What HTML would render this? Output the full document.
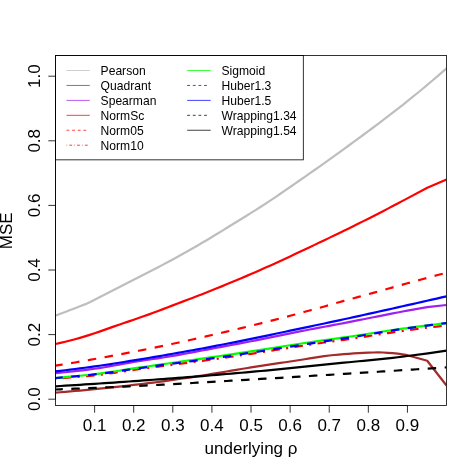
<!DOCTYPE html>
<html><head><meta charset="utf-8"><title>MSE</title>
<style>html,body{margin:0;padding:0;background:#fff}svg{display:block;will-change:transform}text{font-family:"Liberation Sans",sans-serif;fill:#000}</style></head><body>
<svg width="475" height="475" viewBox="0 0 475 475">
<rect width="475" height="475" fill="#fff"/>
<clipPath id="c"><rect x="55.5" y="55.5" width="391.05" height="350.0"/></clipPath>
<g clip-path="url(#c)" fill="none" stroke-linecap="butt" stroke-linejoin="round">
<path d="M55.50,315.60 L60.39,313.77 L65.28,311.92 L70.16,310.06 L75.05,308.19 L79.94,306.33 L84.83,304.39 L89.72,302.16 L94.61,299.73 L99.49,297.25 L104.38,294.80 L109.27,292.31 L114.16,289.81 L119.05,287.31 L123.93,284.81 L128.82,282.30 L133.71,279.79 L138.60,277.27 L143.49,274.74 L148.37,272.22 L153.26,269.70 L158.15,267.18 L163.04,264.64 L167.93,262.08 L172.81,259.47 L177.70,256.80 L182.59,254.08 L187.48,251.31 L192.37,248.51 L197.26,245.68 L202.14,242.82 L207.03,239.94 L211.92,237.02 L216.81,234.06 L221.70,231.07 L226.58,228.06 L231.47,225.04 L236.36,222.02 L241.25,218.99 L246.14,215.96 L251.03,212.91 L255.91,209.84 L260.80,206.72 L265.69,203.55 L270.58,200.32 L275.47,197.05 L280.35,193.73 L285.24,190.38 L290.13,187.02 L295.02,183.65 L299.91,180.27 L304.79,176.87 L309.68,173.45 L314.57,170.01 L319.46,166.55 L324.35,163.08 L329.24,159.60 L334.12,156.10 L339.01,152.58 L343.90,149.04 L348.79,145.49 L353.68,141.92 L358.56,138.34 L363.45,134.74 L368.34,131.13 L373.23,127.50 L378.12,123.84 L383.00,120.14 L387.89,116.41 L392.78,112.65 L397.67,108.85 L402.56,105.03 L407.45,101.15 L412.33,97.23 L417.22,93.26 L422.11,89.23 L427.00,85.15 L431.89,81.02 L436.77,76.85 L441.66,72.63 L446.55,68.36" stroke="#BEBEBE" stroke-width="2.2"/>
<path d="M55.50,392.60 L60.39,392.23 L65.28,391.83 L70.16,391.43 L75.05,391.00 L79.94,390.56 L84.83,390.11 L89.72,389.65 L94.61,389.17 L99.49,388.67 L104.38,388.17 L109.27,387.65 L114.16,387.13 L119.05,386.59 L123.93,386.05 L128.82,385.49 L133.71,384.93 L138.60,384.36 L143.49,383.78 L148.37,383.20 L153.26,382.60 L158.15,381.98 L163.04,381.32 L167.93,380.65 L172.81,379.96 L177.70,379.25 L182.59,378.52 L187.48,377.79 L192.37,377.05 L197.26,376.31 L202.14,375.55 L207.03,374.76 L211.92,373.96 L216.81,373.14 L221.70,372.31 L226.58,371.48 L231.47,370.65 L236.36,369.83 L241.25,369.02 L246.14,368.22 L251.03,367.44 L255.91,366.67 L260.80,365.92 L265.69,365.17 L270.58,364.43 L275.47,363.70 L280.35,362.96 L285.24,362.23 L290.13,361.50 L295.02,360.76 L299.91,360.01 L304.79,359.24 L309.68,358.42 L314.57,357.60 L319.46,356.81 L324.35,356.10 L329.24,355.48 L334.12,354.98 L339.01,354.54 L343.90,354.15 L348.79,353.79 L353.68,353.43 L358.56,353.08 L363.45,352.78 L368.34,352.59 L373.23,352.48 L378.12,352.41 L383.00,352.49 L387.89,352.84 L392.78,353.20 L397.67,353.69 L402.56,354.37 L407.40,355.20 L427.20,360.80 L446.50,385.50" stroke="#A52A2A" stroke-width="2.2"/>
<path d="M55.50,373.10 L60.39,372.69 L65.28,372.24 L70.16,371.75 L75.05,371.21 L79.94,370.64 L84.83,370.04 L89.72,369.41 L94.61,368.75 L99.49,368.04 L104.38,367.24 L109.27,366.37 L114.16,365.46 L119.05,364.55 L123.93,363.65 L128.82,362.80 L133.71,362.00 L138.60,361.24 L143.49,360.50 L148.37,359.76 L153.26,359.03 L158.15,358.29 L163.04,357.53 L167.93,356.75 L172.81,355.92 L177.70,355.06 L182.59,354.18 L187.48,353.27 L192.37,352.35 L197.26,351.42 L202.14,350.49 L207.03,349.56 L211.92,348.63 L216.81,347.71 L221.70,346.80 L226.58,345.89 L231.47,344.98 L236.36,344.06 L241.25,343.14 L246.14,342.21 L251.03,341.27 L255.91,340.32 L260.80,339.35 L265.69,338.37 L270.58,337.37 L275.47,336.37 L280.35,335.37 L285.24,334.36 L290.13,333.37 L295.02,332.39 L299.91,331.42 L304.79,330.47 L309.68,329.53 L314.57,328.61 L319.46,327.69 L324.35,326.77 L329.24,325.85 L334.12,324.93 L339.01,323.99 L343.90,323.05 L348.79,322.09 L353.68,321.14 L358.56,320.18 L363.45,319.21 L368.34,318.25 L373.23,317.28 L378.12,316.31 L383.00,315.35 L387.89,314.39 L392.78,313.43 L397.67,312.48 L402.56,311.52 L407.40,310.60 L427.20,307.10 L446.50,305.00" stroke="#A020F0" stroke-width="2.2"/>
<path d="M55.50,344.00 L60.39,342.92 L65.28,341.75 L70.16,340.52 L75.05,339.23 L79.94,337.86 L84.83,336.39 L89.72,334.84 L94.61,333.25 L99.49,331.60 L104.38,329.89 L109.27,328.14 L114.16,326.40 L119.05,324.71 L123.93,323.03 L128.82,321.37 L133.71,319.70 L138.60,318.02 L143.49,316.32 L148.37,314.59 L153.26,312.81 L158.15,310.99 L163.04,309.14 L167.93,307.27 L172.81,305.38 L177.70,303.50 L182.59,301.62 L187.48,299.77 L192.37,297.93 L197.26,296.08 L202.14,294.18 L207.03,292.26 L211.92,290.31 L216.81,288.34 L221.70,286.36 L226.58,284.35 L231.47,282.32 L236.36,280.28 L241.25,278.21 L246.14,276.13 L251.03,274.03 L255.91,271.90 L260.80,269.76 L265.69,267.60 L270.58,265.42 L275.47,263.22 L280.35,260.99 L285.24,258.72 L290.13,256.42 L295.02,254.11 L299.91,251.80 L304.79,249.50 L309.68,247.18 L314.57,244.87 L319.46,242.55 L324.35,240.22 L329.24,237.88 L334.12,235.53 L339.01,233.16 L343.90,230.79 L348.79,228.40 L353.68,225.99 L358.56,223.56 L363.45,221.11 L368.34,218.65 L373.23,216.16 L378.12,213.67 L383.00,211.15 L387.89,208.61 L392.78,206.04 L397.67,203.47 L402.56,200.89 L405.00,199.60 L427.30,187.81 L446.55,179.60" stroke="#FF0000" stroke-width="2.2"/>
<path d="M55.50,365.70 L60.39,364.91 L65.28,364.10 L70.16,363.29 L75.05,362.46 L79.94,361.62 L84.83,360.77 L89.72,359.91 L94.61,359.04 L99.49,358.16 L104.38,357.27 L109.27,356.37 L114.16,355.46 L119.05,354.54 L123.93,353.61 L128.82,352.67 L133.71,351.73 L138.60,350.77 L143.49,349.80 L148.37,348.83 L153.26,347.84 L158.15,346.84 L163.04,345.83 L167.93,344.80 L172.81,343.77 L177.70,342.72 L182.59,341.65 L187.48,340.58 L192.37,339.50 L197.26,338.40 L202.14,337.29 L207.03,336.18 L211.92,335.05 L216.81,333.92 L221.70,332.77 L226.58,331.62 L231.47,330.46 L236.36,329.29 L241.25,328.12 L246.14,326.94 L251.03,325.75 L255.91,324.55 L260.80,323.33 L265.69,322.10 L270.58,320.85 L275.47,319.60 L280.35,318.32 L285.24,317.04 L290.13,315.75 L295.02,314.44 L299.91,313.13 L304.79,311.81 L309.68,310.48 L314.57,309.14 L319.46,307.80 L324.35,306.45 L329.24,305.06 L334.12,303.65 L339.01,302.25 L343.90,300.89 L348.79,299.55 L353.68,298.22 L358.56,296.88 L363.45,295.54 L368.34,294.20 L373.23,292.85 L378.12,291.49 L383.00,290.13 L387.89,288.76 L392.78,287.38 L397.67,286.01 L402.56,284.64 L407.45,283.28 L412.33,281.94 L417.22,280.60 L422.11,279.27 L427.00,277.95 L431.89,276.63 L436.77,275.31 L441.66,274.00 L446.55,272.69" stroke="#FF0000" stroke-width="2.2" stroke-dasharray="8.50 8.50" stroke-dashoffset="1.2"/>
<path d="M55.50,378.70 L60.39,378.27 L65.28,377.85 L70.16,377.46 L75.05,377.07 L79.94,376.67 L84.83,376.25 L89.72,375.79 L94.61,375.28 L99.49,374.72 L104.38,374.11 L109.27,373.46 L114.16,372.79 L119.05,372.09 L123.93,371.38 L128.82,370.67 L133.71,369.96 L138.60,369.27 L143.49,368.60 L148.37,367.94 L153.26,367.29 L158.15,366.65 L163.04,366.00 L167.93,365.36 L172.81,364.71 L177.70,364.07 L182.59,363.43 L187.48,362.78 L192.37,362.13 L197.26,361.48 L202.14,360.82 L207.03,360.16 L211.92,359.49 L216.81,358.81 L221.70,358.13 L226.58,357.43 L231.47,356.72 L236.36,356.01 L241.25,355.28 L246.14,354.54 L251.03,353.79 L255.91,353.04 L260.80,352.28 L265.69,351.52 L270.58,350.75 L275.47,349.99 L280.35,349.22 L285.24,348.45 L290.13,347.69 L295.02,346.93 L299.91,346.17 L304.79,345.42 L309.68,344.68 L314.57,343.95 L319.46,343.22 L324.35,342.53 L329.24,341.86 L334.12,341.20 L339.01,340.52 L343.90,339.82 L348.79,339.10 L353.68,338.37 L358.56,337.62 L363.45,336.87 L368.34,336.12 L373.23,335.36 L378.12,334.60 L383.00,333.85 L387.89,333.11 L392.78,332.38 L397.67,331.67 L402.56,330.97 L407.45,330.30 L412.33,329.64 L417.22,329.00 L422.11,328.37 L427.00,327.75 L431.89,327.15 L436.77,326.55 L441.66,325.97 L446.55,325.39" stroke="#FF0000" stroke-width="2.2" stroke-dasharray="2.12 6.38 8.50 6.38" stroke-dashoffset="1.2"/>
<path d="M55.50,378.00 L60.39,377.56 L65.28,377.12 L70.16,376.68 L75.05,376.23 L79.94,375.77 L84.83,375.28 L89.72,374.76 L94.61,374.19 L99.49,373.57 L104.38,372.91 L109.27,372.21 L114.16,371.47 L119.05,370.72 L123.93,369.96 L128.82,369.19 L133.71,368.43 L138.60,367.69 L143.49,366.97 L148.37,366.27 L153.26,365.56 L158.15,364.86 L163.04,364.16 L167.93,363.47 L172.81,362.77 L177.70,362.08 L182.59,361.38 L187.48,360.69 L192.37,359.99 L197.26,359.29 L202.14,358.59 L207.03,357.89 L211.92,357.18 L216.81,356.47 L221.70,355.75 L226.58,355.03 L231.47,354.30 L236.36,353.57 L241.25,352.83 L246.14,352.08 L251.03,351.33 L255.91,350.58 L260.80,349.82 L265.69,349.06 L270.58,348.30 L275.47,347.54 L280.35,346.78 L285.24,346.02 L290.13,345.27 L295.02,344.52 L299.91,343.77 L304.79,343.02 L309.68,342.28 L314.57,341.55 L319.46,340.82 L324.35,340.13 L329.24,339.47 L334.12,338.81 L339.01,338.14 L343.90,337.44 L348.79,336.73 L353.68,336.00 L358.56,335.26 L363.45,334.51 L368.34,333.76 L373.23,333.01 L378.12,332.26 L383.00,331.51 L387.89,330.78 L392.78,330.05 L397.67,329.34 L402.56,328.65 L407.45,327.97 L412.33,327.32 L417.22,326.68 L422.11,326.06 L427.00,325.44 L431.89,324.84 L436.77,324.25 L441.66,323.67 L446.55,323.09" stroke="#00FF00" stroke-width="2.2"/>
<path d="M55.50,378.00 L60.39,377.57 L65.28,377.14 L70.16,376.73 L75.05,376.32 L79.94,375.90 L84.83,375.46 L89.72,374.98 L94.61,374.45 L99.49,373.87 L104.38,373.24 L109.27,372.58 L114.16,371.88 L119.05,371.16 L123.93,370.44 L128.82,369.71 L133.71,368.99 L138.60,368.28 L143.49,367.60 L148.37,366.93 L153.26,366.27 L158.15,365.61 L163.04,364.96 L167.93,364.31 L172.81,363.66 L177.70,363.01 L182.59,362.36 L187.48,361.71 L192.37,361.06 L197.26,360.40 L202.14,359.74 L207.03,359.07 L211.92,358.40 L216.81,357.72 L221.70,357.03 L226.58,356.33 L231.47,355.62 L236.36,354.91 L241.25,354.18 L246.14,353.45 L251.03,352.72 L255.91,351.97 L260.80,351.22 L265.69,350.47 L270.58,349.71 L275.47,348.95 L280.35,348.19 L285.24,347.43 L290.13,346.66 L295.02,345.89 L299.91,345.12 L304.79,344.36 L309.68,343.59 L314.57,342.82 L319.46,342.04 L324.35,341.30 L329.24,340.58 L334.12,339.88 L339.01,339.16 L343.90,338.41 L348.79,337.64 L353.68,336.86 L358.56,336.06 L363.45,335.26 L368.34,334.45 L373.23,333.64 L378.12,332.83 L383.00,332.03 L387.89,331.23 L392.78,330.46 L397.67,329.69 L402.56,328.95 L407.45,328.24 L412.33,327.55 L417.22,326.87 L422.11,326.21 L427.00,325.56 L431.89,324.92 L436.77,324.30 L441.66,323.69 L446.55,323.09" stroke="#0000FF" stroke-width="2.2" stroke-dasharray="8.50 8.50" stroke-dashoffset="1.2"/>
<path d="M55.50,371.45 L60.39,370.86 L65.28,370.26 L70.16,369.64 L75.05,369.02 L79.94,368.39 L84.83,367.75 L89.72,367.10 L94.61,366.43 L99.49,365.74 L104.38,365.03 L109.27,364.29 L114.16,363.53 L119.05,362.76 L123.93,361.98 L128.82,361.19 L133.71,360.40 L138.60,359.60 L143.49,358.79 L148.37,357.98 L153.26,357.15 L158.15,356.32 L163.04,355.48 L167.93,354.63 L172.81,353.77 L177.70,352.90 L182.59,352.03 L187.48,351.15 L192.37,350.26 L197.26,349.37 L202.14,348.46 L207.03,347.55 L211.92,346.63 L216.81,345.69 L221.70,344.74 L226.58,343.78 L231.47,342.80 L236.36,341.82 L241.25,340.84 L246.14,339.85 L251.03,338.85 L255.91,337.85 L260.80,336.84 L265.69,335.83 L270.58,334.81 L275.47,333.79 L280.35,332.76 L285.24,331.74 L290.13,330.70 L295.02,329.67 L299.91,328.64 L304.79,327.61 L309.68,326.57 L314.57,325.54 L319.46,324.50 L324.35,323.47 L329.24,322.42 L334.12,321.38 L339.01,320.32 L343.90,319.27 L348.79,318.20 L353.68,317.14 L358.56,316.06 L363.45,314.99 L368.34,313.91 L373.23,312.83 L378.12,311.75 L383.00,310.66 L387.89,309.57 L392.78,308.48 L397.67,307.39 L402.56,306.29 L407.45,305.19 L412.33,304.09 L417.22,302.99 L422.11,301.88 L427.00,300.78 L431.89,299.67 L436.77,298.56 L441.66,297.44 L446.55,296.33" stroke="#0000FF" stroke-width="2.2"/>
<path d="M55.50,389.50 L60.39,389.31 L65.28,389.12 L70.16,388.92 L75.05,388.72 L79.94,388.52 L84.83,388.32 L89.72,388.11 L94.61,387.90 L99.49,387.68 L104.38,387.46 L109.27,387.24 L114.16,387.02 L119.05,386.79 L123.93,386.56 L128.82,386.33 L133.71,386.10 L138.60,385.86 L143.49,385.62 L148.37,385.38 L153.26,385.14 L158.15,384.89 L163.04,384.63 L167.93,384.37 L172.81,384.10 L177.70,383.83 L182.59,383.56 L187.48,383.28 L192.37,383.01 L197.26,382.72 L202.14,382.44 L207.03,382.15 L211.92,381.86 L216.81,381.57 L221.70,381.28 L226.58,380.99 L231.47,380.70 L236.36,380.41 L241.25,380.12 L246.14,379.83 L251.03,379.54 L255.91,379.25 L260.80,378.96 L265.69,378.67 L270.58,378.38 L275.47,378.08 L280.35,377.79 L285.24,377.49 L290.13,377.19 L295.02,376.89 L299.91,376.60 L304.79,376.30 L309.68,376.00 L314.57,375.69 L319.46,375.39 L324.35,375.09 L329.24,374.79 L334.12,374.49 L339.01,374.18 L343.90,373.88 L348.79,373.58 L353.68,373.27 L358.56,372.97 L363.45,372.66 L368.34,372.36 L373.23,372.05 L378.12,371.74 L383.00,371.44 L387.89,371.13 L392.78,370.82 L397.67,370.51 L402.56,370.20 L407.45,369.89 L412.33,369.58 L417.22,369.27 L422.11,368.96 L427.00,368.65 L431.89,368.34 L436.77,368.02 L441.66,367.71 L446.55,367.40" stroke="#000000" stroke-width="2.2" stroke-dasharray="8.50 8.50" stroke-dashoffset="1.2"/>
<path d="M55.50,386.30 L60.39,386.00 L65.28,385.70 L70.16,385.40 L75.05,385.10 L79.94,384.79 L84.83,384.47 L89.72,384.16 L94.61,383.84 L99.49,383.51 L104.38,383.19 L109.27,382.86 L114.16,382.53 L119.05,382.19 L123.93,381.85 L128.82,381.51 L133.71,381.17 L138.60,380.82 L143.49,380.47 L148.37,380.12 L153.26,379.76 L158.15,379.40 L163.04,379.04 L167.93,378.68 L172.81,378.31 L177.70,377.94 L182.59,377.56 L187.48,377.18 L192.37,376.80 L197.26,376.42 L202.14,376.03 L207.03,375.63 L211.92,375.24 L216.81,374.84 L221.70,374.43 L226.58,374.02 L231.47,373.61 L236.36,373.19 L241.25,372.77 L246.14,372.34 L251.03,371.91 L255.91,371.47 L260.80,371.02 L265.69,370.57 L270.58,370.10 L275.47,369.63 L280.35,369.15 L285.24,368.67 L290.13,368.18 L295.02,367.69 L299.91,367.20 L304.79,366.70 L309.68,366.20 L314.57,365.70 L319.46,365.20 L324.35,364.70 L329.24,364.20 L334.12,363.70 L339.01,363.20 L343.90,362.71 L348.79,362.22 L353.68,361.74 L358.56,361.27 L363.45,360.80 L368.34,360.34 L373.23,359.87 L378.12,359.39 L383.00,358.90 L387.89,358.39 L392.78,357.85 L397.67,357.28 L402.56,356.64 L407.40,356.00 L428.00,353.30 L446.50,350.70" stroke="#000000" stroke-width="2.2"/>
</g>
<rect x="55.5" y="55.5" width="247.8" height="104.35" fill="#fff" stroke="#000" stroke-width="0.8"/>
<line x1="66.5" y1="70.50" x2="89.8" y2="70.50" stroke="#BEBEBE" stroke-width="0.75"/>
<text x="100.6" y="75.10" font-size="12.1">Pearson</text>
<line x1="66.5" y1="85.44" x2="89.8" y2="85.44" stroke="#A52A2A" stroke-width="0.75"/>
<text x="100.6" y="90.04" font-size="12.1">Quadrant</text>
<line x1="66.5" y1="100.38" x2="89.8" y2="100.38" stroke="#A020F0" stroke-width="0.75"/>
<text x="100.6" y="104.98" font-size="12.1">Spearman</text>
<line x1="66.5" y1="115.32" x2="89.8" y2="115.32" stroke="#FF0000" stroke-width="0.75"/>
<text x="100.6" y="119.92" font-size="12.1">NormSc</text>
<line x1="66.5" y1="130.26" x2="88.8" y2="130.26" stroke="#FF0000" stroke-width="0.75" stroke-dasharray="2.82 2.82"/>
<text x="100.6" y="134.86" font-size="12.1">Norm05</text>
<line x1="66.5" y1="145.20" x2="89.8" y2="145.20" stroke="#FF0000" stroke-width="0.75" stroke-dasharray="0.71 2.12 2.82 2.12"/>
<text x="100.6" y="149.80" font-size="12.1">Norm10</text>
<line x1="187.2" y1="70.50" x2="210.7" y2="70.50" stroke="#00FF00" stroke-width="0.75"/>
<text x="221.5" y="75.10" font-size="12.1">Sigmoid</text>
<line x1="187.2" y1="85.44" x2="209.7" y2="85.44" stroke="#0000FF" stroke-width="0.75" stroke-dasharray="2.82 2.82"/>
<text x="221.5" y="90.04" font-size="12.1">Huber1.3</text>
<line x1="187.2" y1="100.38" x2="210.7" y2="100.38" stroke="#0000FF" stroke-width="0.75"/>
<text x="221.5" y="104.98" font-size="12.1">Huber1.5</text>
<line x1="187.2" y1="115.32" x2="209.7" y2="115.32" stroke="#000000" stroke-width="0.75" stroke-dasharray="2.82 2.82"/>
<text x="221.5" y="119.92" font-size="12.1">Wrapping1.34</text>
<line x1="187.2" y1="130.26" x2="210.7" y2="130.26" stroke="#000000" stroke-width="0.75"/>
<text x="221.5" y="134.86" font-size="12.1">Wrapping1.54</text>
<rect x="55.5" y="55.5" width="391.05" height="350.0" fill="none" stroke="#000" stroke-width="0.8"/>
<line x1="94.61" y1="405.5" x2="407.44" y2="405.5" stroke="#000" stroke-width="0.8"/>
<line x1="55.5" y1="399.20" x2="55.5" y2="76.20" stroke="#000" stroke-width="0.8"/>
<line x1="94.61" y1="405.5" x2="94.61" y2="412.7" stroke="#000" stroke-width="0.8"/>
<text x="94.61" y="430.6" font-size="17" text-anchor="middle">0.1</text>
<line x1="133.71" y1="405.5" x2="133.71" y2="412.7" stroke="#000" stroke-width="0.8"/>
<text x="133.71" y="430.6" font-size="17" text-anchor="middle">0.2</text>
<line x1="172.81" y1="405.5" x2="172.81" y2="412.7" stroke="#000" stroke-width="0.8"/>
<text x="172.81" y="430.6" font-size="17" text-anchor="middle">0.3</text>
<line x1="211.92" y1="405.5" x2="211.92" y2="412.7" stroke="#000" stroke-width="0.8"/>
<text x="211.92" y="430.6" font-size="17" text-anchor="middle">0.4</text>
<line x1="251.03" y1="405.5" x2="251.03" y2="412.7" stroke="#000" stroke-width="0.8"/>
<text x="251.03" y="430.6" font-size="17" text-anchor="middle">0.5</text>
<line x1="290.13" y1="405.5" x2="290.13" y2="412.7" stroke="#000" stroke-width="0.8"/>
<text x="290.13" y="430.6" font-size="17" text-anchor="middle">0.6</text>
<line x1="329.24" y1="405.5" x2="329.24" y2="412.7" stroke="#000" stroke-width="0.8"/>
<text x="329.24" y="430.6" font-size="17" text-anchor="middle">0.7</text>
<line x1="368.34" y1="405.5" x2="368.34" y2="412.7" stroke="#000" stroke-width="0.8"/>
<text x="368.34" y="430.6" font-size="17" text-anchor="middle">0.8</text>
<line x1="407.44" y1="405.5" x2="407.44" y2="412.7" stroke="#000" stroke-width="0.8"/>
<text x="407.44" y="430.6" font-size="17" text-anchor="middle">0.9</text>
<line x1="48.3" y1="399.20" x2="55.5" y2="399.20" stroke="#000" stroke-width="0.8"/>
<text transform="translate(40.2,399.20) rotate(-90)" font-size="17" text-anchor="middle">0.0</text>
<line x1="48.3" y1="334.60" x2="55.5" y2="334.60" stroke="#000" stroke-width="0.8"/>
<text transform="translate(40.2,334.60) rotate(-90)" font-size="17" text-anchor="middle">0.2</text>
<line x1="48.3" y1="270.00" x2="55.5" y2="270.00" stroke="#000" stroke-width="0.8"/>
<text transform="translate(40.2,270.00) rotate(-90)" font-size="17" text-anchor="middle">0.4</text>
<line x1="48.3" y1="205.40" x2="55.5" y2="205.40" stroke="#000" stroke-width="0.8"/>
<text transform="translate(40.2,205.40) rotate(-90)" font-size="17" text-anchor="middle">0.6</text>
<line x1="48.3" y1="140.80" x2="55.5" y2="140.80" stroke="#000" stroke-width="0.8"/>
<text transform="translate(40.2,140.80) rotate(-90)" font-size="17" text-anchor="middle">0.8</text>
<line x1="48.3" y1="76.20" x2="55.5" y2="76.20" stroke="#000" stroke-width="0.8"/>
<text transform="translate(40.2,76.20) rotate(-90)" font-size="17" text-anchor="middle">1.0</text>
<text transform="translate(12.4,230.80) rotate(-90)" font-size="17" text-anchor="middle">MSE</text>
<text x="251.03" y="453.6" font-size="17" text-anchor="middle">underlying ρ</text>
</svg></body></html>
